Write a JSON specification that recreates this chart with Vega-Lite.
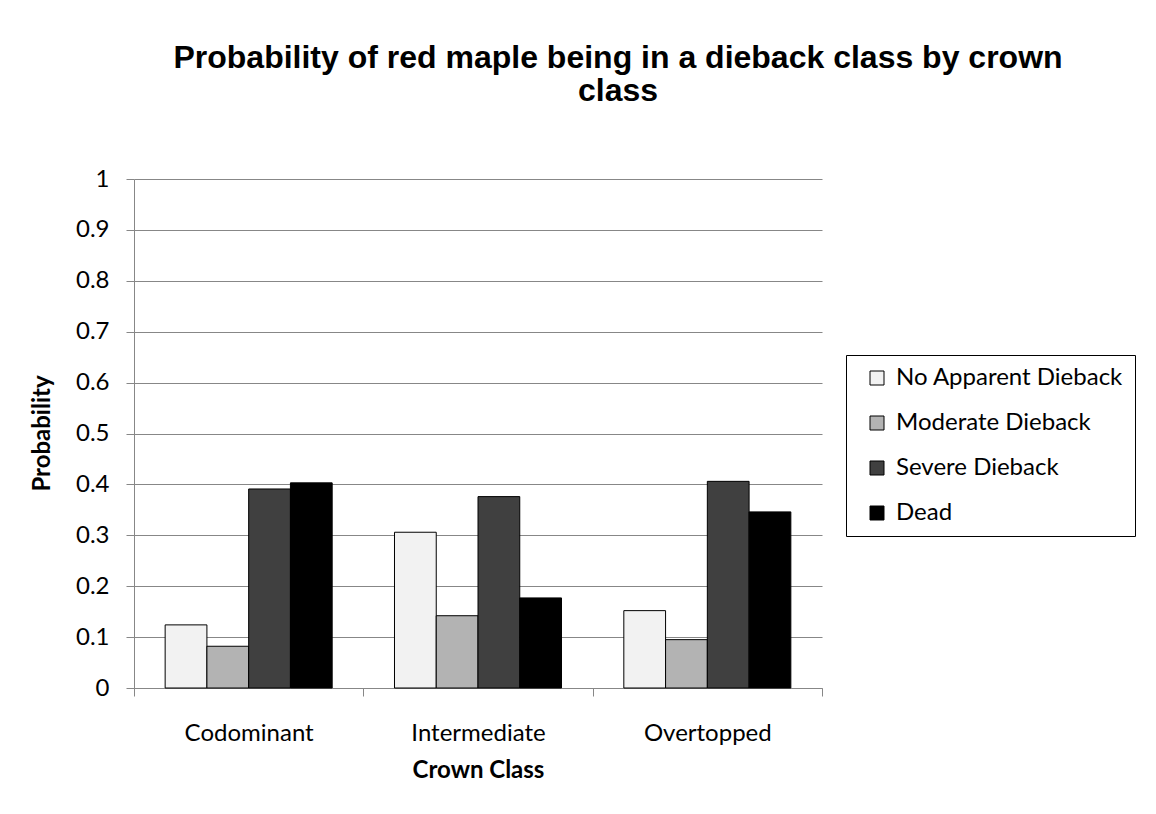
{
  "$schema": "https://vega.github.io/schema/vega-lite/v6.json",
  "width": 688,
  "height": 509,
  "autosize": {"type": "none"},
  "padding": {"left": 134, "top": 179, "right": 334, "bottom": 126},
  "background": "white",
  "title": {
    "text": ["Probability of red maple being in a dieback class by crown", "class"],
    "font": "Liberation Sans",
    "fontSize": 32,
    "fontWeight": "bold",
    "color": "black",
    "anchor": "middle",
    "baseline": "bottom",
    "lineHeight": 33,
    "dx": 140,
    "offset": 27
  },
  "data": {
    "values": [
      {"crown": "Codominant", "status": "No Apparent Dieback", "probability": 0.124},
      {"crown": "Codominant", "status": "Moderate Dieback", "probability": 0.082},
      {"crown": "Codominant", "status": "Severe Dieback", "probability": 0.391},
      {"crown": "Codominant", "status": "Dead", "probability": 0.403},
      {"crown": "Intermediate", "status": "No Apparent Dieback", "probability": 0.306},
      {"crown": "Intermediate", "status": "Moderate Dieback", "probability": 0.142},
      {"crown": "Intermediate", "status": "Severe Dieback", "probability": 0.376},
      {"crown": "Intermediate", "status": "Dead", "probability": 0.177},
      {"crown": "Overtopped", "status": "No Apparent Dieback", "probability": 0.152},
      {"crown": "Overtopped", "status": "Moderate Dieback", "probability": 0.095},
      {"crown": "Overtopped", "status": "Severe Dieback", "probability": 0.406},
      {"crown": "Overtopped", "status": "Dead", "probability": 0.346}
    ]
  },
  "mark": {"type": "bar", "stroke": "black", "strokeWidth": 1},
  "encoding": {
    "x": {
      "field": "crown",
      "type": "nominal",
      "sort": ["Codominant", "Intermediate", "Overtopped"],
      "scale": {"paddingInner": 0, "paddingOuter": 0},
      "axis": {
        "title": "Crown Class",
        "labelAngle": 0,
        "tickBand": "extent",
        "tickSize": 8,
        "tickColor": "#878787",
        "domainColor": "#878787",
        "labelFont": "Lato",
        "labelFontSize": 24,
        "labelColor": "black",
        "labelPadding": 25,
        "titleFont": "Lato",
        "titleFontSize": 24,
        "titleFontWeight": "bold",
        "titleColor": "black",
        "titleY": 70
      }
    },
    "xOffset": {
      "field": "status",
      "type": "nominal",
      "sort": ["No Apparent Dieback", "Moderate Dieback", "Severe Dieback", "Dead"],
      "scale": {"paddingInner": 0, "paddingOuter": 0.746}
    },
    "y": {
      "field": "probability",
      "type": "quantitative",
      "scale": {"domain": [0, 1]},
      "axis": {
        "values": [0, 0.1, 0.2, 0.3, 0.4, 0.5, 0.6, 0.7, 0.8, 0.9, 1],
        "format": "~g",
        "grid": true,
        "gridColor": "#878787",
        "domainColor": "#878787",
        "tickColor": "#878787",
        "tickSize": 8,
        "labelFont": "Lato",
        "labelFontSize": 24,
        "labelColor": "black",
        "labelPadding": 17,
        "title": "Probability",
        "titleFont": "Lato",
        "titleFontSize": 24,
        "titleFontWeight": "bold",
        "titleColor": "black",
        "titleAngle": 270,
        "titleX": -92,
        "titleY": 254,
        "titleAlign": "center",
        "titleBaseline": "middle"
      }
    },
    "color": {
      "field": "status",
      "type": "nominal",
      "scale": {
        "domain": ["No Apparent Dieback", "Moderate Dieback", "Severe Dieback", "Dead"],
        "range": ["#f2f2f2", "#b3b3b3", "#404040", "#000000"]
      },
      "legend": {
        "title": null,
        "orient": "none",
        "legendX": 712,
        "legendY": 176,
        "direction": "vertical",
        "padding": 11,
        "strokeColor": "black",
        "fillColor": "white",
        "symbolType": "square",
        "symbolSize": 196,
        "symbolStrokeColor": "black",
        "symbolStrokeWidth": 1,
        "symbolOpacity": 1,
        "symbolOffset": 8,
        "labelFont": "Lato",
        "labelFontSize": 24,
        "labelColor": "black",
        "labelOffset": 7,
        "labelLimit": 400,
        "rowPadding": 21
      }
    }
  },
  "config": {"view": {"stroke": null}}
}
